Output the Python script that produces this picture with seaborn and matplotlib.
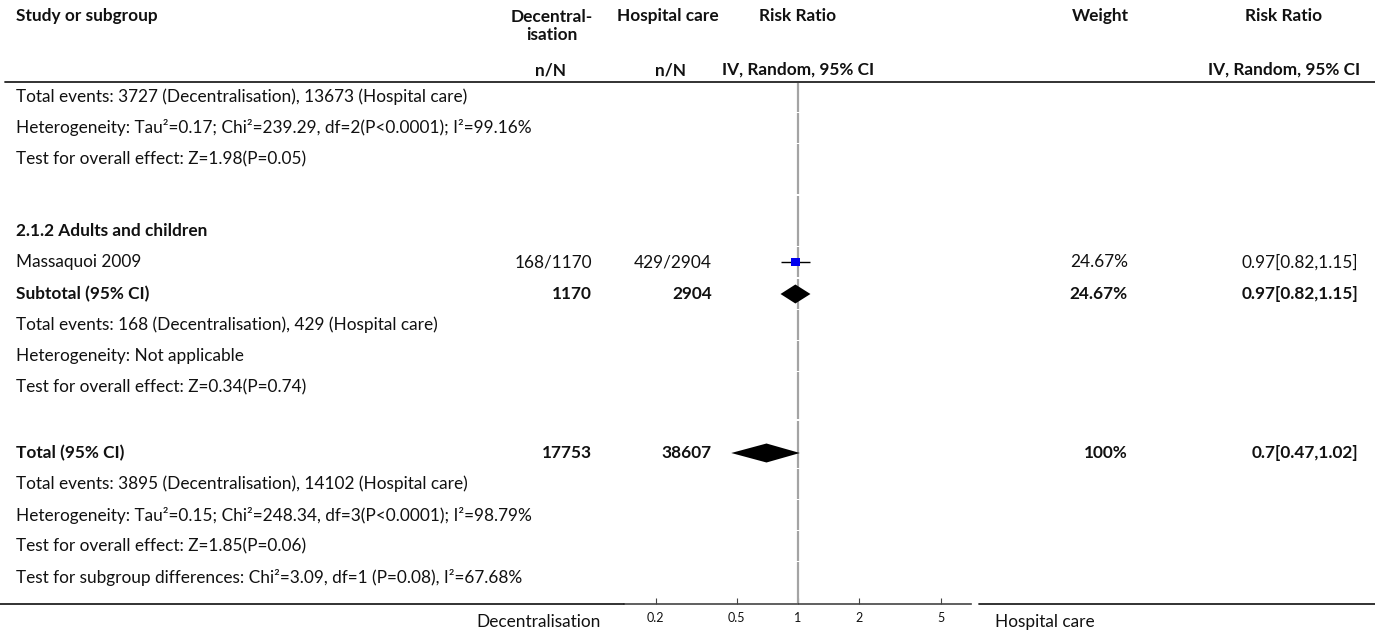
import matplotlib
matplotlib.use("Agg")
import matplotlib.pyplot as plt
from matplotlib.lines import Line2D
import seaborn as sns
import pandas as pd

sns.set_theme(style="white")
plt.rcParams['font.family'] = ['Lato', 'DejaVu Sans']

W, H = 1375, 635

# data
studies = ["Massaquoi 2009"]
dec_events = [168]
dec_total = [1170]
hosp_events = [429]
hosp_total = [2904]
study_rr = [0.97]
study_lo = [0.82]
study_hi = [1.15]
study_weight = ["24.67%"]

pooled_labels = ["Subtotal (95% CI)", "Total (95% CI)"]
pooled_dec = [1170, 17753]
pooled_hosp = [2904, 38607]
pooled_rr = [0.97, 0.7]
pooled_lo = [0.82, 0.47]
pooled_hi = [1.15, 1.02]
pooled_weight = ["24.67%", "100%"]

top_notes = ["Total events: 3727 (Decentralisation), 13673 (Hospital care)",
             "Heterogeneity: Tau\u00b2=0.17; Chi\u00b2=239.29, df=2(P<0.0001); I\u00b2=99.16%",
             "Test for overall effect: Z=1.98(P=0.05)"]
sub_notes = ["Total events: 168 (Decentralisation), 429 (Hospital care)",
             "Heterogeneity: Not applicable",
             "Test for overall effect: Z=0.34(P=0.74)"]
total_notes = ["Total events: 3895 (Decentralisation), 14102 (Hospital care)",
               "Heterogeneity: Tau\u00b2=0.15; Chi\u00b2=248.34, df=3(P<0.0001); I\u00b2=98.79%",
               "Test for overall effect: Z=1.85(P=0.06)",
               "Test for subgroup differences: Chi\u00b2=3.09, df=1 (P=0.08), I\u00b2=67.68%"]
subgroup_title = "2.1.2 Adults and children"
ticks = [0.2, 0.5, 1, 2, 5]
tick_labels = ["0.2", "0.5", "1", "2", "5"]

# layout (pixel rows from top)
y_top_notes = [97, 128, 159]
y_group = 231
y_study = [262]
y_pooled = [294, 453]
y_sub_notes = [325, 356, 387]
y_total_notes = [484, 515, 546, 577]
y_header_line = 82
y_axis = 604
LX = 16

FS = 12.4
FB = 12.4
fig = plt.figure(figsize=(W / 100, H / 100), dpi=100)


def px(x, y):
    return x / W, 1 - y / H


def txt(x, y, s, ha="left", bold=False, va="center", size=None, **kw):
    if size is None:
        size = FB if bold else FS
    fig.text(*px(x, y), s, ha=ha, va=va, fontsize=size,
             fontweight="bold" if bold else "normal", color="#111111", **kw)


# header
txt(LX, 16, "Study or subgroup", bold=True)
txt(552, 26, "Decentral-\nisation", ha="center", bold=True, linespacing=1.15)
txt(668, 16, "Hospital care", ha="center", bold=True)
txt(798, 16, "Risk Ratio", ha="center", bold=True)
txt(1100, 16, "Weight", ha="center", bold=True)
txt(1284, 16, "Risk Ratio", ha="center", bold=True)
txt(550, 70, "n/N", ha="center", bold=True)
txt(670, 70, "n/N", ha="center", bold=True)
txt(798, 70, "IV, Random, 95% CI", ha="center", bold=True)
txt(1284, 70, "IV, Random, 95% CI", ha="center", bold=True)

for y, s in zip(y_top_notes, top_notes):
    txt(LX, y, s)
txt(LX, y_group, subgroup_title, bold=True)
for y, name, de, dt, he, ht, w, r, lo, hi in zip(y_study, studies, dec_events, dec_total,
                                                  hosp_events, hosp_total, study_weight,
                                                  study_rr, study_lo, study_hi):
    txt(LX, y, name)
    txt(592, y, f"{de}/{dt}", ha="right")
    txt(712, y, f"{he}/{ht}", ha="right")
    txt(1128, y, w, ha="right")
    txt(1358, y, f"{r:g}[{lo:g},{hi:g}]", ha="right")
for y, name, dn, hn, w, r, lo, hi in zip(y_pooled, pooled_labels, pooled_dec, pooled_hosp,
                                          pooled_weight, pooled_rr, pooled_lo, pooled_hi):
    txt(LX, y, name, bold=True)
    txt(592, y, str(dn), ha="right", bold=True)
    txt(712, y, str(hn), ha="right", bold=True)
    txt(1128, y, w, ha="right", bold=True)
    txt(1358, y, f"{r:g}[{lo:g},{hi:g}]", ha="right", bold=True)
for y, s in zip(y_sub_notes, sub_notes):
    txt(LX, y, s)
for y, s in zip(y_total_notes, total_notes):
    txt(LX, y, s)

txt(601, 622, "Decentralisation", ha="right")
txt(995, 622, "Hospital care")

# rules
fig.add_artist(Line2D([5 / W, 1], [1 - y_header_line / H] * 2, color="#222222", lw=1.3))
fig.add_artist(Line2D([0, 624 / W], [1 - y_axis / H] * 2, color="#222222", lw=1.3))
fig.add_artist(Line2D([979 / W, 1], [1 - y_axis / H] * 2, color="#222222", lw=1.3))

# forest panel
x0, x1 = 624, 971
ax = fig.add_axes([x0 / W, 1 - y_axis / H, (x1 - x0) / W, (y_axis - y_header_line) / H])
ax.set_xscale("log")
ax.set_xlim(0.140, 7.05)
ax.set_ylim(y_axis, y_header_line)

# no-effect line, broken slightly between rows
rows = sorted(y_top_notes + [y_group] + y_study + y_pooled + y_sub_notes + y_total_notes)
bounds = [y_header_line] + [(a + b) / 2 for a, b in zip(rows[:-1], rows[1:])] + [y_axis]
ax.vlines([1] * (len(bounds) - 1), [b + 0.8 for b in bounds[:-1]],
          [b - 0.8 for b in bounds[1:]], color="#a4a4a4", lw=1.6, zorder=1)

df = pd.DataFrame({"rr": study_rr, "lo": study_lo, "hi": study_hi, "y": y_study})
ax.hlines(df["y"], df["lo"], df["hi"], color="black", lw=1.0, zorder=2)
sns.scatterplot(data=df, x="rr", y="y", marker="s", s=38, color="#0000ee",
                edgecolor="none", ax=ax, zorder=3)

for y, r, lo, hi in zip(y_pooled, pooled_rr, pooled_lo, pooled_hi):
    ax.fill([lo, r, hi, r], [y, y - 9.5, y, y + 9.5], color="black", lw=0, zorder=3)

ax.set_xticks(ticks)
ax.set_xticklabels(tick_labels)
ax.set_xticks([], minor=True)
ax.set_yticks([])
ax.set_xlabel("")
ax.set_ylabel("")
for side in ["top", "left", "right"]:
    ax.spines[side].set_visible(False)
ax.spines["bottom"].set_color("#444444")
ax.spines["bottom"].set_linewidth(1.2)
ax.tick_params(axis="x", direction="in", length=4, width=0.8, color="#444444",
               labelsize=9, pad=6, bottom=True, labelcolor="#111111")
ax.patch.set_alpha(0)

fig.savefig("out.png", dpi=100)
